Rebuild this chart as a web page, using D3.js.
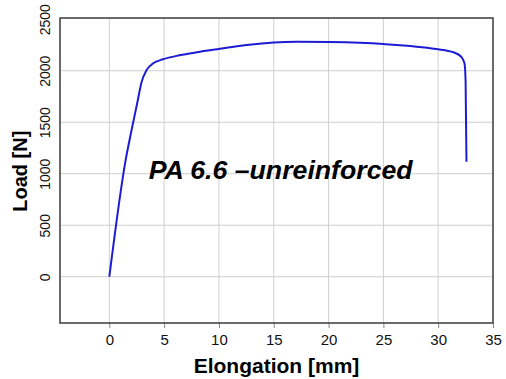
<!DOCTYPE html>
<html>
<head>
<meta charset="utf-8">
<script src="https://cdn.jsdelivr.net/npm/d3@7"></script>
<style>
  body { margin: 0; background: #fff; }
  svg { display: block; font-family: "Liberation Sans", Arial, sans-serif; }
</style>
</head>
<body>
<div id="chart"></div>
<script>
// values
const elongation = [0, 1.5, 2.03, 2.54, 2.95, 3.4, 4.0, 4.9, 6.4, 8.0, 10.1, 12.5, 15.0, 17.1, 20.1, 25.0, 29.8, 31.4, 32.1, 32.4, 32.5, 32.58];
const load = [0, 1140, 1424, 1684, 1893, 2007, 2072, 2111, 2150, 2180, 2213, 2250, 2275, 2281, 2278, 2259, 2211, 2179, 2136, 2072, 1900, 1117];
const xTicks = [0, 5, 10, 15, 20, 25, 30, 35];
const yTicks = [0, 500, 1000, 1500, 2000, 2500];
const label = 'PA 6.6 \u2013unreinforced';

const margin = {top: 18, right: 13, bottom: 56, left: 60},
  width = 506 - margin.left - margin.right,
  height = 379 - margin.top - margin.bottom;

const svg = d3.select('#chart')
  .append('svg')
  .attr('width', 506)
  .attr('height', 379)
  .append('g')
  .attr('transform', 'translate(' + margin.left + ',' + margin.top + ')');

const x = d3.scaleLinear().domain([-4.5, 35]).range([0, width]);
const y = d3.scaleLinear().domain([-449, 2512]).range([height, 0]);

// grid
svg.append('g')
  .selectAll('line.vg')
  .data(xTicks.filter(d => d < 35))
  .enter().append('line')
  .attr('x1', d => x(d)).attr('x2', d => x(d))
  .attr('y1', 0).attr('y2', height)
  .style('stroke', '#cfcfcf').style('stroke-width', 1);

svg.append('g')
  .selectAll('line.hg')
  .data(yTicks.filter(d => d < 2500))
  .enter().append('line')
  .attr('x1', 0).attr('x2', width)
  .attr('y1', d => y(d)).attr('y2', d => y(d))
  .style('stroke', '#cfcfcf').style('stroke-width', 1);

// x axis
const xAxis = svg.append('g')
  .attr('transform', 'translate(0,' + height + ')')
  .call(d3.axisBottom(x).tickValues(xTicks).tickSize(5).tickPadding(6));
xAxis.select('.domain').remove();
xAxis.selectAll('line').style('stroke', '#888');
xAxis.selectAll('text').style('font-size', '15px').style('fill', '#111');

// y axis, labels rotated
const yAxis = svg.append('g')
  .call(d3.axisLeft(y).tickValues(yTicks).tickFormat(d3.format('d')).tickSize(0));
yAxis.select('.domain').remove();
yAxis.selectAll('text')
  .style('font-size', '14px').style('fill', '#111')
  .attr('x', 0).attr('dy', 0)
  .attr('text-anchor', 'middle')
  .attr('transform', 'translate(-10,0) rotate(-90)');

// frame
svg.append('rect')
  .attr('width', width).attr('height', height)
  .style('fill', 'none').style('stroke', '#3a3a3a').style('stroke-width', 1.5);

// curve
const line = d3.line()
  .x((d, i) => x(elongation[i]))
  .y(d => y(d))
  .curve(d3.curveMonotoneX);

svg.append('path')
  .datum(load)
  .attr('d', line)
  .style('fill', 'none')
  .style('stroke', '#1c1cd4')
  .style('stroke-width', 2);

// annotation
svg.append('text')
  .attr('x', x(3.5) + 1)
  .attr('y', y(945))
  .style('font-size', '26.7px')
  .style('font-weight', 'bold')
  .style('font-style', 'italic')
  .text(label);

// axis titles
svg.append('text')
  .attr('x', x(15.25))
  .attr('y', height + 50)
  .attr('text-anchor', 'middle')
  .style('font-size', '21px')
  .style('font-weight', 'bold')
  .text('Elongation [mm]');

svg.append('text')
  .attr('transform', 'translate(' + (-33) + ',' + y(1025) + ') rotate(-90)')
  .attr('text-anchor', 'middle')
  .style('font-size', '20px')
  .style('font-weight', 'bold')
  .text('Load [N]');
</script>
</body>
</html>
